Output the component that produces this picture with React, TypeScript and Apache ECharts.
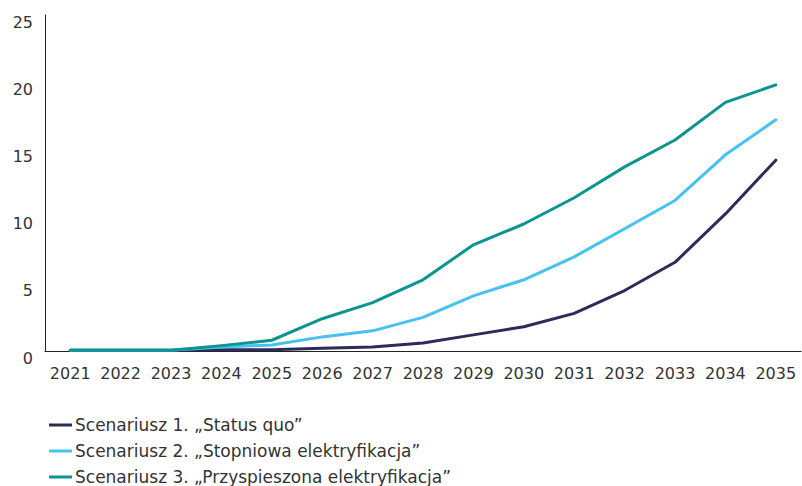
import React, { useEffect, useRef } from "react";
import * as echarts from "echarts";

const years = ["2021","2022","2023","2024","2025","2026","2027","2028","2029","2030","2031","2032","2033","2034","2035"];
const statusQuo = [0.05, 0.05, 0.05, 0.1, 0.1, 0.2, 0.3, 0.6, 1.2, 1.8, 2.8, 4.5, 6.6, 10.2, 14.2];
const stopniowa = [0.05, 0.05, 0.05, 0.3, 0.45, 1.05, 1.5, 2.5, 4.1, 5.3, 7.0, 9.1, 11.2, 14.6, 17.2];
const przyspieszona = [0.05, 0.05, 0.05, 0.4, 0.8, 2.4, 3.6, 5.3, 7.9, 9.45, 11.4, 13.7, 15.7, 18.5, 19.8];
const seriesNames = [
  "Scenariusz 1. „Status quo”",
  "Scenariusz 2. „Stopniowa elektryfikacja”",
  "Scenariusz 3. „Przyspieszona elektryfikacja”",
];
const colors = ["#2b2d58", "#45c2f0", "#0b9490"];

export default function App() {
  const ref = useRef<HTMLDivElement>(null);
  useEffect(() => {
    if (!ref.current) return;
    const chart = echarts.init(ref.current, undefined, { renderer: "svg" });
    const font = "'DejaVu Sans', sans-serif";
    const datasets = [statusQuo, stopniowa, przyspieszona];
    chart.setOption({
      animation: false,
      textStyle: { fontFamily: font },
      grid: { left: 45, right: 1, top: 15, bottom: 135, containLabel: false },
      legend: {
        orient: "vertical",
        left: 49,
        top: 416,
        padding: 0,
        height: 70,
        itemGap: 8,
        itemWidth: 23,
        itemHeight: 3,
        icon: "rect",
        textStyle: { fontSize: 17, lineHeight: 18, color: "#333", fontFamily: font, padding: [0, 0, 0, -2] },
        data: seriesNames,
      },
      xAxis: {
        type: "category",
        data: years,
        boundaryGap: true,
        axisLine: { show: true, lineStyle: { color: "#222", width: 1 } },
        axisTick: { show: false },
        axisLabel: { color: "#333", fontSize: 16, margin: 14, interval: 0, fontFamily: font },
      },
      yAxis: {
        type: "value",
        min: 0,
        max: 25,
        interval: 5,
        axisLine: { show: true, lineStyle: { color: "#222", width: 1 } },
        axisTick: { show: false },
        splitLine: { show: false },
        axisLabel: { color: "#333", fontSize: 16, margin: 12, verticalAlign: "top", lineHeight: 14, fontFamily: font },
      },
      series: seriesNames.map((name, i) => ({
        name,
        type: "line",
        data: datasets[i],
        showSymbol: false,
        symbol: "none",
        lineStyle: { color: colors[i], width: 3, cap: "round", join: "round" },
        itemStyle: { color: colors[i] },
      })),
    });
    return () => chart.dispose();
  }, []);
  return <div ref={ref} style={{ width: 802, height: 486, position: "absolute", left: 0, top: 0 }} />;
}
